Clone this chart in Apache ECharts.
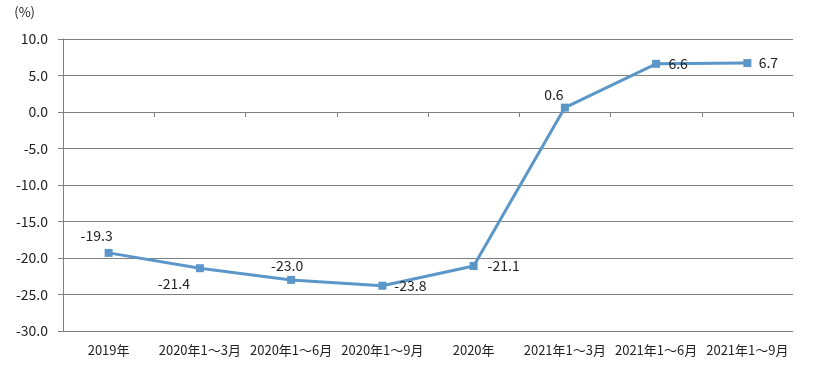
<!DOCTYPE html>
<html><head><meta charset="utf-8">
<script src="https://cdn.jsdelivr.net/npm/echarts@6/dist/echarts.min.js"></script>
<style>html,body{margin:0;padding:0;background:#fff}#c{width:816px;height:380px}</style>
</head><body><div id="c"></div>
<script>
const categories = ['2019年','2020年1～3月','2020年1～6月','2020年1～9月','2020年','2021年1～3月','2021年1～6月','2021年1～9月'];
const values = [-19.3,-21.4,-23.0,-23.8,-21.1,0.6,6.6,6.7];
const yTicks = {min:-30,max:10,interval:5};

const labelOffsets = [[-12,-17],[-26,15],[-4,-14],[28,0],[30,0],[-11,-13],[22,0],[21,0]];
const FONT = '"Noto Sans CJK SC", "Noto Sans", sans-serif';
const LINE = '#5b96c8';

const chart = echarts.init(document.getElementById('c'));
chart.setOption({
  animation:false,
  textStyle:{fontFamily:FONT},
  grid:{left:63,right:23,top:39,bottom:49,containLabel:false},
  xAxis:[{
    type:'category',data:categories,position:'bottom',
    axisLine:{show:false,onZero:false},axisTick:{show:false},
    axisLabel:{color:'#222',fontSize:13,fontFamily:FONT,margin:13,interval:0}
  },{
    type:'category',data:categories,position:'bottom',
    axisLine:{show:true,onZero:true,lineStyle:{color:'#808080',width:1}},
    axisTick:{show:true,interval:0,length:5,inside:false,lineStyle:{color:'#808080'}},
    axisLabel:{show:false,interval:0},splitLine:{show:false}
  }],
  yAxis:{
    type:'value',min:yTicks.min,max:yTicks.max,interval:yTicks.interval,
    name:'(%)',nameLocation:'end',nameGap:20,
    nameTextStyle:{color:'#222',fontSize:13,align:'right',padding:[0,28,0,0]},
    axisLine:{show:true,onZero:false,lineStyle:{color:'#808080'}},
    axisTick:{show:true,length:5,lineStyle:{color:'#808080'}},
    axisLabel:{color:'#222',fontSize:14,margin:15,formatter:v=>v.toFixed(1)},
    splitLine:{show:true,lineStyle:{color:'#808080',width:1}}
  },
  series:[{
    type:'line',data:values.map((v,i)=>({value:v,label:{offset:labelOffsets[i]}})),
    xAxisIndex:0,
    symbol:'rect',symbolSize:8,
    lineStyle:{color:LINE,width:3},
    itemStyle:{color:LINE},
    label:{show:true,position:'inside',color:'#222',fontSize:14,formatter:p=>p.value.toFixed(1)}
  }]
});
</script></body></html>
